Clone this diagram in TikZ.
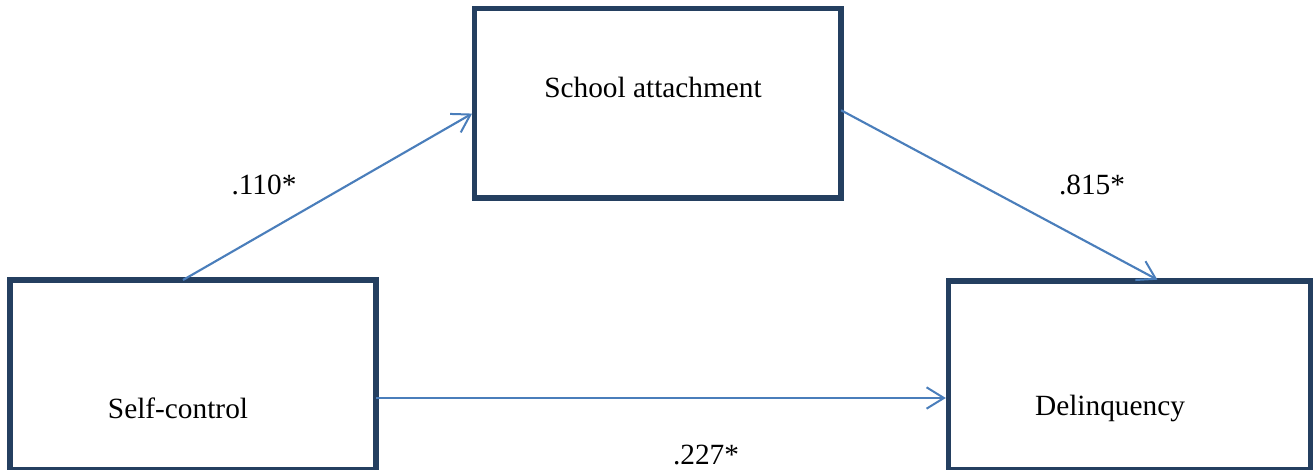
\documentclass[tikz,border=0pt]{standalone}
\usepackage{fontspec}
\setmainfont{Liberation Serif}
\usetikzlibrary{arrows.meta, positioning, calc}
\definecolor{cnavy}{HTML}{243F60}
\definecolor{cblue}{HTML}{4A7EBB}
\tikzset{
  every picture/.style={x=0.75pt, y=-0.75pt, font=\fontsize{22}{26}\selectfont},
  box/.style={draw=cnavy, line width=4.2pt, rectangle, inner sep=0pt, outer sep=0pt},
  arrow/.style={-{Straight Barb[length=13pt, width=16pt, line width=1.5pt]}, draw=cblue, line width=1.6pt, shorten >=2pt},
  coef/.style={inner sep=0pt},
}
\begin{document}
\begin{tikzpicture}
  \useasboundingbox (0,0) rectangle (1313,470);
  % boxes
  \node[box, minimum width=274.5pt, minimum height=142.5pt] (sc) at (193,375) {};
  \node[box, minimum width=275pt, minimum height=142.1pt] (sa) at (657.75,103.25) {};
  \node[box, minimum width=271.9pt, minimum height=141.8pt] (dl) at (1129.75,375.5) {};
  \node[coef] (sct) at (178,408) {Self-control};
  \node[coef] (sat) at (653,87) {School attachment};
  \node[coef] (dlt) at (1110,408) {Delinquency};
  % paths
  \draw[arrow] ($(sc.north)+(-10,0)$) -- ($(sa.west)+(0,9)$);
  \draw[arrow] ($(sa.east)+(0,7)$) -- ($(dl.north)+(30,0)$);
  \draw[arrow] ($(sc.east)+(0,23)$) -- ($(dl.west)+(0,22.5)$);
  \node[coef] (b1) at (264,185) {.110*};
  \node[coef] (b2) at (1092,185) {.815*};
  \node[coef] (b3) at (706,455) {.227*};
\end{tikzpicture}
\end{document}
